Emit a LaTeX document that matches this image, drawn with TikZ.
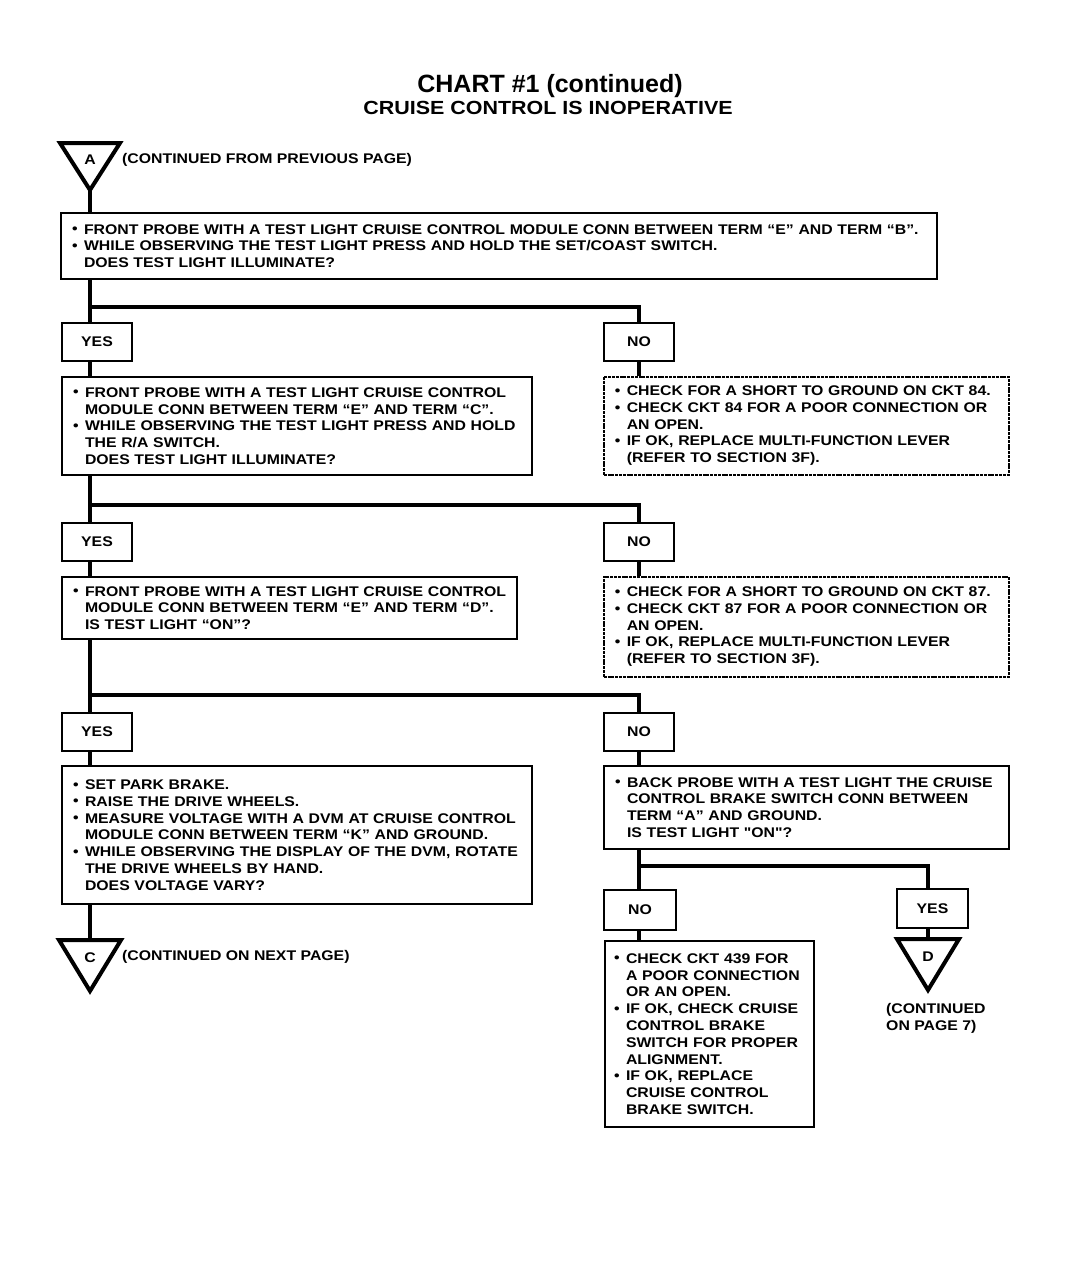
\documentclass[tikz,border=0pt]{standalone}
\usepackage{fontspec}
\usepackage{graphicx}
\setmainfont{Liberation Sans}
\newfontfamily\bodyfont[FakeStretch=1.13]{Liberation Sans}
\newlength\bw \setlength\bw{12pt}
\newcommand\bl[1]{\mbox{\makebox[\bw][l]{\raisebox{0.05ex}{\textbullet}}#1}}
\newcommand\ct[1]{\mbox{\hspace*{\bw}#1}}
\tikzset{
  txt/.style={font=\bodyfont\bfseries\fontsize{14}{16.8}\selectfont},
  box/.style={draw, line width=2pt, anchor=north west, inner xsep=11pt, inner ysep=0pt, align=left, txt},
  hbox/.style={box, line width=1.5pt, dash pattern=on 3pt off 0.8pt},
  ans/.style={draw, line width=2pt, anchor=north west, minimum width=70pt, minimum height=38pt, inner sep=0pt, txt},
  conn/.style={line width=4pt},
  tri/.style={line width=4pt, line join=miter},
}
\begin{document}
\begin{tikzpicture}[x=1pt, y=-1pt]
\useasboundingbox (0,0) rectangle (1088,1280);
\fill[white] (0,0) rectangle (1088,1280);
\coordinate (m) at (90,0);
% titles
\node[anchor=base, inner sep=0pt, font=\bfseries\fontsize{25}{30}\selectfont] (title) at (550,92) {CHART \#1 (continued)};
\node[anchor=base, inner sep=0pt, font=\bodyfont\bfseries\fontsize{19}{22}\selectfont] (subtitle) at (548,114) {CRUISE CONTROL IS INOPERATIVE};
% triangle A
\draw[tri] (60,143) -- (120,143) -- (90,190) -- cycle;
\coordinate (Aapex) at (90,190);
\node[txt, inner sep=0pt] (A) at (90,160) {A};
\node[txt, anchor=west, inner sep=0pt] (Atext) at (122,160) {(CONTINUED FROM PREVIOUS PAGE)};
% box 1
\node[box, minimum width=876pt, minimum height=66pt, text width=854pt] (b1) at (60,212)
 {\bl{FRONT PROBE WITH A TEST LIGHT CRUISE CONTROL MODULE CONN BETWEEN TERM “E” AND TERM “B”.}\\
  \bl{WHILE OBSERVING THE TEST LIGHT PRESS AND HOLD THE SET/COAST SWITCH.}\\
  \ct{DOES TEST LIGHT ILLUMINATE?}};
% level 1 answers
\node[ans] (yes1) at (61,322) {YES};
\node[ans] (no1) at (603,322) {NO};
\coordinate (j1) at (90,307);
% box 2
\node[box, minimum width=470pt, minimum height=98pt, text width=448pt] (b2) at (61,376)
 {\bl{FRONT PROBE WITH A TEST LIGHT CRUISE CONTROL}\\
  \ct{MODULE CONN BETWEEN TERM “E” AND TERM “C”.}\\
  \bl{WHILE OBSERVING THE TEST LIGHT PRESS AND HOLD}\\
  \ct{THE R/A SWITCH.}\\
  \ct{DOES TEST LIGHT ILLUMINATE?}};
\node[hbox, minimum width=405pt, minimum height=98pt, text width=383pt] (n1) at (603,376)
 {\bl{CHECK FOR A SHORT TO GROUND ON CKT 84.}\\
  \bl{CHECK CKT 84 FOR A POOR CONNECTION OR}\\
  \ct{AN OPEN.}\\
  \bl{IF OK, REPLACE MULTI-FUNCTION LEVER}\\
  \ct{(REFER TO SECTION 3F).}};
% level 2 answers
\node[ans] (yes2) at (61,522) {YES};
\node[ans] (no2) at (603,522) {NO};
\coordinate (j2) at (90,505);
% box 3
\node[box, minimum width=455pt, minimum height=62pt, text width=433pt] (b3) at (61,576)
 {\bl{FRONT PROBE WITH A TEST LIGHT CRUISE CONTROL}\\
  \ct{MODULE CONN BETWEEN TERM “E” AND TERM “D”.}\\
  \ct{IS TEST LIGHT “ON”?}};
\node[hbox, minimum width=405pt, minimum height=100pt, text width=383pt] (n2) at (603,576)
 {\bl{CHECK FOR A SHORT TO GROUND ON CKT 87.}\\
  \bl{CHECK CKT 87 FOR A POOR CONNECTION OR}\\
  \ct{AN OPEN.}\\
  \bl{IF OK, REPLACE MULTI-FUNCTION LEVER}\\
  \ct{(REFER TO SECTION 3F).}};
% level 3 answers
\node[ans] (yes3) at (61,712) {YES};
\node[ans] (no3) at (603,712) {NO};
\coordinate (j3) at (90,695);
% box 4
\node[box, minimum width=470pt, minimum height=138pt, text width=448pt] (b4) at (61,765)
 {\bl{SET PARK BRAKE.}\\
  \bl{RAISE THE DRIVE WHEELS.}\\
  \bl{MEASURE VOLTAGE WITH A DVM AT CRUISE CONTROL}\\
  \ct{MODULE CONN BETWEEN TERM “K” AND GROUND.}\\
  \bl{WHILE OBSERVING THE DISPLAY OF THE DVM, ROTATE}\\
  \ct{THE DRIVE WHEELS BY HAND.}\\
  \ct{DOES VOLTAGE VARY?}};
% box 5
\node[box, minimum width=405pt, minimum height=83pt, text width=383pt] (b5) at (603,765)
 {\bl{BACK PROBE WITH A TEST LIGHT THE CRUISE}\\
  \ct{CONTROL BRAKE SWITCH CONN BETWEEN}\\
  \ct{TERM “A” AND GROUND.}\\
  \ct{IS TEST LIGHT "ON"?}};
% level 4 answers
\node[ans, minimum width=72pt, minimum height=40pt] (no4) at (603,889) {NO};
\node[ans, minimum width=71pt, minimum height=39pt] (yes4) at (896,888) {YES};
\coordinate (j4) at (639,866);
% box 6
\node[box, inner xsep=9pt, minimum width=209pt, minimum height=186pt, text width=191pt] (b6) at (604,940)
 {\bl{CHECK CKT 439 FOR}\\
  \ct{A POOR CONNECTION}\\
  \ct{OR AN OPEN.}\\
  \bl{IF OK, CHECK CRUISE}\\
  \ct{CONTROL BRAKE}\\
  \ct{SWITCH FOR PROPER}\\
  \ct{ALIGNMENT.}\\
  \bl{IF OK, REPLACE}\\
  \ct{CRUISE CONTROL}\\
  \ct{BRAKE SWITCH.}};
% triangle C
\draw[tri] (59,940) -- (121,940) -- (90,991) -- cycle;
\coordinate (Ctop) at (90,940);
\node[txt, inner sep=0pt] (C) at (90,958) {C};
\node[txt, anchor=west, inner sep=0pt] (Ctext) at (122,957) {(CONTINUED ON NEXT PAGE)};
% triangle D
\draw[tri] (897,939) -- (959,939) -- (928,990) -- cycle;
\coordinate (Dtop) at (928,939);
\node[txt, inner sep=0pt] (D) at (928,957) {D};
\node[txt, anchor=north west, inner sep=0pt, align=left] (Dtext) at (886,1003) {(CONTINUED\\ON PAGE 7)};
% connectors
\draw[conn] (Aapex) -- (b1.north -| m);
\draw[conn] (b1.south -| m) -- (yes1.north -| m);
\draw[conn] (j1) -| (no1.north);
\draw[conn] (yes1.south -| m) -- (b2.north -| m);
\draw[conn] (no1.south) -- (n1.north -| no1.south);
\draw[conn] (b2.south -| m) -- (yes2.north -| m);
\draw[conn] (j2) -| (no2.north);
\draw[conn] (yes2.south -| m) -- (b3.north -| m);
\draw[conn] (no2.south) -- (n2.north -| no2.south);
\draw[conn] (b3.south -| m) -- (yes3.north -| m);
\draw[conn] (j3) -| (no3.north);
\draw[conn] (yes3.south -| m) -- (b4.north -| m);
\draw[conn] (no3.south) -- (b5.north -| no3.south);
\draw[conn] (b4.south -| m) -- (Ctop);
\draw[conn] (b5.south -| j4) -- (no4.north -| j4);
\draw[conn] (j4) -| (yes4.north -| Dtop);
\draw[conn] (no4.south -| j4) -- (b6.north -| j4);
\draw[conn] (yes4.south -| Dtop) -- (Dtop);
\end{tikzpicture}
\end{document}
